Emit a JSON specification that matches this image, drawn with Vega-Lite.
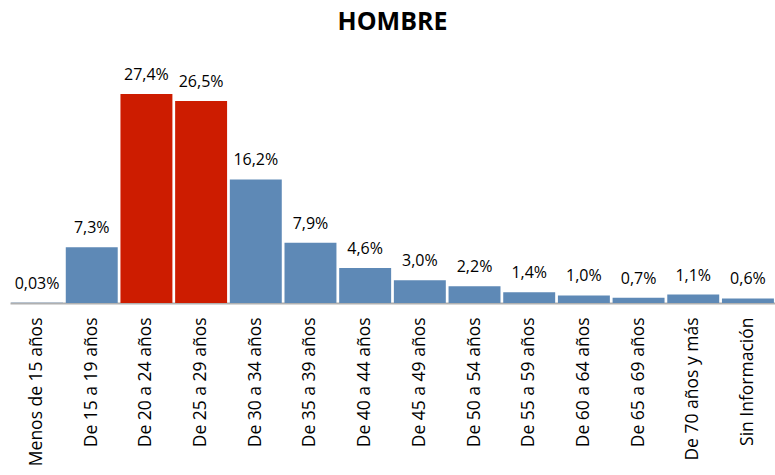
{
  "$schema": "https://vega.github.io/schema/vega-lite/v6.json",
  "autosize": {"type": "none"},
  "width": 765,
  "height": 244,
  "padding": {"left": 10, "top": 59, "right": 0, "bottom": 172},
  "background": "white",
  "title": {
    "text": "HOMBRE",
    "font": "Open Sans",
    "fontSize": 25,
    "fontWeight": "bold",
    "color": "#000000",
    "anchor": "middle",
    "frame": "group",
    "offset": 24
  },
  "data": {
    "values": [
      {"edad": "Menos de 15 años", "pct": 0.03},
      {"edad": "De 15 a 19 años", "pct": 7.3},
      {"edad": "De 20 a 24 años", "pct": 27.4},
      {"edad": "De 25 a 29 años", "pct": 26.5},
      {"edad": "De 30 a 34 años", "pct": 16.2},
      {"edad": "De 35 a 39 años", "pct": 7.9},
      {"edad": "De 40 a 44 años", "pct": 4.6},
      {"edad": "De 45 a 49 años", "pct": 3.0},
      {"edad": "De 50 a 54 años", "pct": 2.2},
      {"edad": "De 55 a 59 años", "pct": 1.4},
      {"edad": "De 60 a 64 años", "pct": 1.0},
      {"edad": "De 65 a 69 años", "pct": 0.7},
      {"edad": "De 70 años y más", "pct": 1.1},
      {"edad": "Sin Información", "pct": 0.6}
    ]
  },
  "transform": [
    {"calculate": "replace(datum.pct < 0.1 ? format(datum.pct, '.2f') : format(datum.pct, '.1f'), '.', ',') + '%'", "as": "etiqueta"}
  ],
  "encoding": {
    "x": {
      "field": "edad",
      "type": "nominal",
      "sort": null,
      "scale": {"paddingInner": 0.05, "paddingOuter": 0.02},
      "axis": {
        "title": null,
        "labelAngle": -90,
        "labelFont": "Open Sans",
        "labelFontSize": 17.5,
        "labelColor": "#000000",
        "labelPadding": 14,
        "ticks": false,
        "domainColor": "#b0b0b0",
        "domainWidth": 2,
        "labelLimit": 200
      }
    },
    "y": {
      "field": "pct",
      "type": "quantitative",
      "scale": {"domain": [0, 32]},
      "axis": null
    }
  },
  "layer": [
    {
      "mark": {"type": "bar"},
      "encoding": {
        "color": {
          "condition": {"test": "datum.edad === 'De 20 a 24 años' || datum.edad === 'De 25 a 29 años'", "value": "#cd1c00"},
          "value": "#5e89b6"
        }
      }
    },
    {
      "mark": {"type": "text", "baseline": "bottom", "dy": -11, "font": "Open Sans", "fontSize": 16, "color": "#000000"},
      "encoding": {"text": {"field": "etiqueta"}}
    }
  ],
  "config": {"view": {"stroke": null}}
}
